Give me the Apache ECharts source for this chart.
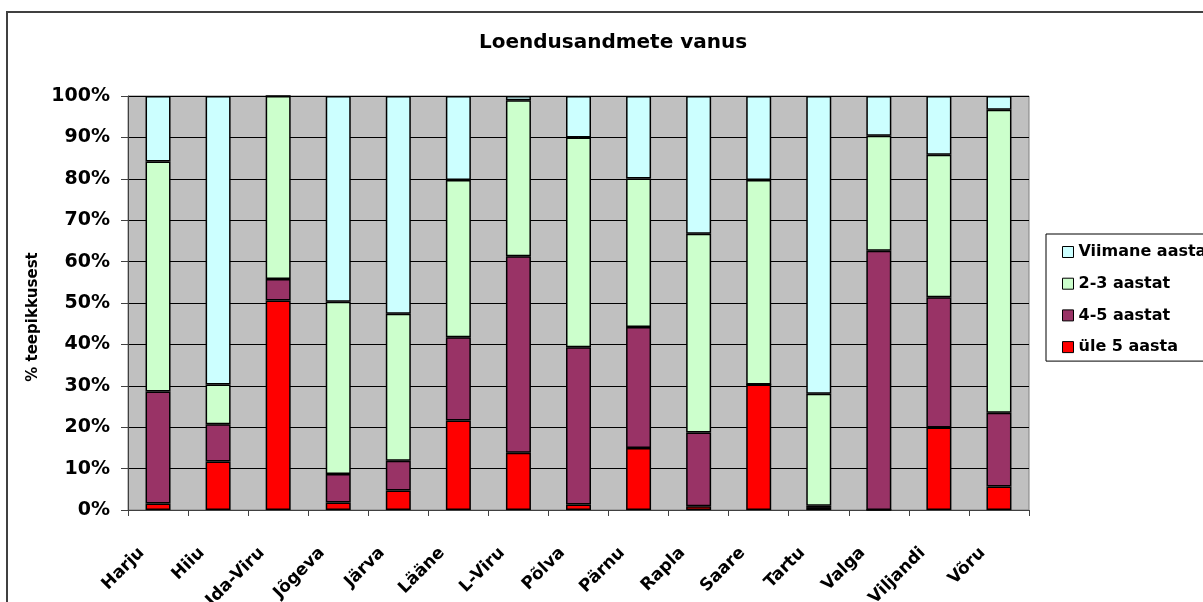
<!DOCTYPE html>
<html>
<head>
<meta charset="utf-8">
<script src="https://cdn.jsdelivr.net/npm/echarts@6/dist/echarts.min.js"></script>
<style>
html,body{margin:0;padding:0;background:#fff;}
#chart{width:1203px;height:602px;}
</style>
</head>
<body>
<div id="chart"></div>
<script>
const categories = ['Harju','Hiiu','Ida-Viru','Jõgeva','Järva','Lääne','L-Viru','Põlva','Pärnu','Rapla','Saare','Tartu','Valga','Viljandi','Võru'];
const yTickLabels = ['0%','10%','20%','30%','40%','50%','60%','70%','80%','90%','100%'];
const ule5 = [1.6, 11.7, 50.6, 1.8, 4.7, 21.6, 13.8, 1.3, 15.0, 0.9, 30.3, 0.5, 0, 19.9, 5.7];
const aastat45 = [27.0, 9.0, 5.2, 6.9, 7.2, 20.1, 47.5, 38.0, 29.2, 17.8, 0, 0.5, 62.6, 31.5, 17.8];
const aastat23 = [55.6, 9.6, 44.2, 41.6, 35.5, 38.0, 37.7, 50.7, 35.9, 48.0, 49.4, 27.1, 27.8, 34.4, 73.2];
const viimane = [15.8, 69.7, 0, 49.7, 52.6, 20.3, 1.0, 10.0, 19.9, 33.3, 20.3, 71.9, 9.6, 14.2, 3.3];

const chart = echarts.init(document.getElementById('chart'));
const font = '"DejaVu Sans", Verdana, sans-serif';
function bar(name, data, color){
  return {
    name: name, type: 'bar', stack: 'total', data: data, barWidth: 25,
    itemStyle: {color: color, borderColor: '#000', borderWidth: 1.5},
    emphasis: {disabled: true}
  };
}
chart.setOption({
  backgroundColor: '#fff',
  animation: false,
  title: {
    text: 'Loendusandmete vanus',
    left: 608, top: 28, textAlign: 'center',
    textStyle: {fontFamily: font, fontWeight: 'bold', fontSize: 20, color: '#000'}
  },
  graphic: [{
    type: 'polyline', silent: true,
    shape: {points: [[7, 1300], [7, 12], [1300, 12]]},
    style: {stroke: '#404040', lineWidth: 2, fill: null}
  }],
  legend: {
    orient: 'vertical', left: 1046, top: 234,
    data: ['Viimane aasta', '2-3 aastat', '4-5 aastat', 'üle 5 aasta'],
    itemWidth: 11, itemHeight: 11, itemGap: 15.7,
    padding: [10, 40, 6, 16],
    borderColor: '#000', borderWidth: 1,
    backgroundColor: '#fff',
    icon: 'rect',
    itemStyle: {borderColor: '#000', borderWidth: 1},
    textStyle: {fontFamily: font, fontWeight: 'bold', fontSize: 16, color: '#000'}
  },
  grid: {
    left: 128, right: 174, top: 96, bottom: 92,
    containLabel: false, outerBoundsMode: 'none',
    show: true, backgroundColor: '#C0C0C0', borderColor: '#808080', borderWidth: 1
  },
  xAxis: {
    type: 'category', data: categories,
    axisLine: {lineStyle: {color: '#404040', width: 1}},
    axisTick: {show: true, length: 6, lineStyle: {color: '#404040'}},
    axisLabel: {rotate: 45, margin: 24, padding: [0, 23, 0, 0], fontFamily: font, fontWeight: 'bold', fontSize: 17, color: '#000'}
  },
  yAxis: {
    type: 'value', min: 0, max: 100, interval: 10,
    name: '% teepikkusest', nameLocation: 'middle', nameGap: 85, nameRotate: 90,
    nameTextStyle: {fontFamily: font, fontWeight: 'bold', fontSize: 15, color: '#000', padding: [0, 28, 0, 0]},
    axisLine: {show: true, lineStyle: {color: '#404040'}},
    axisTick: {show: true, length: 7, lineStyle: {color: '#404040'}},
    splitLine: {show: true, lineStyle: {color: '#000', width: 1}},
    axisLabel: {
      margin: 18, fontFamily: font, fontWeight: 'bold', fontSize: 19, color: '#000',
      formatter: function(v){ return yTickLabels[Math.round(v/10)]; }
    }
  },
  series: [
    bar('üle 5 aasta', ule5, '#FF0000'),
    bar('4-5 aastat', aastat45, '#993366'),
    bar('2-3 aastat', aastat23, '#CCFFCC'),
    bar('Viimane aasta', viimane, '#CCFFFF')
  ]
});
</script>
</body>
</html>
